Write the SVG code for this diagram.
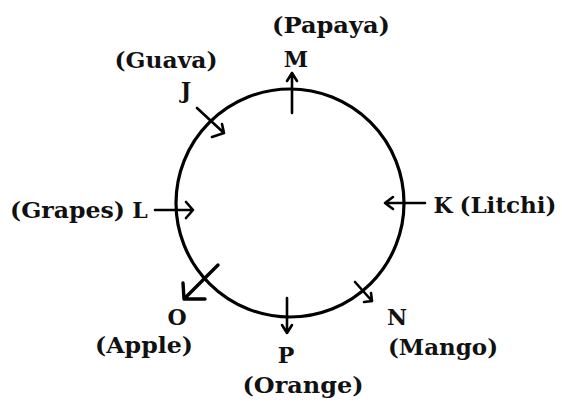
<svg xmlns="http://www.w3.org/2000/svg" width="562" height="410" viewBox="0 0 562 410">
<style>
text{font-family:"DejaVu Serif","Liberation Serif",serif;font-weight:bold;font-size:22px;fill:#111;text-anchor:middle}
.c{fill:none;stroke:#000;stroke-width:3.2}
.a{fill:none;stroke:#000;stroke-width:2.6;stroke-linecap:round;stroke-linejoin:round}
</style>
<rect width="562" height="410" fill="#fff"/>
<g id="circle"><circle class="c" cx="290" cy="203" r="114"/></g>
<g id="connectors">
<path class="a" d="M292 113V73M287 81L292 73L297 81"/>
<path class="a" d="M197 108L224 133M222 124L224 133L212 137"/>
<path class="a" d="M155 210H193M186 202L193 210L186 218"/>
<path class="a" d="M425 203H385M393 197L385 203L393 209"/>
<path class="a" d="M355 282L372 301M371 293L372 301L364 302"/>
<path class="a" d="M287 298V333M282 325L287 333L292 325"/>
<path class="a" style="stroke-width:3.4" d="M218 265L184 299M183 283L184 299L205 299"/>
</g>
<g id="node-M"><text x="331" y="33" textLength="118" lengthAdjust="spacingAndGlyphs">(Papaya)</text><text x="296" y="67">M</text></g>
<g id="node-J"><text x="166" y="68" textLength="103" lengthAdjust="spacingAndGlyphs">(Guava)</text><text x="186" y="98">J</text></g>
<g id="node-L"><text x="67.5" y="218" textLength="115" lengthAdjust="spacingAndGlyphs">(Grapes)</text><text x="140" y="218">L</text></g>
<g id="node-K"><text x="443" y="213">K</text><text x="508" y="213" textLength="97" lengthAdjust="spacingAndGlyphs">(Litchi)</text></g>
<g id="node-O"><text x="177" y="325">O</text><text x="144" y="353" textLength="98" lengthAdjust="spacingAndGlyphs">(Apple)</text></g>
<g id="node-P"><text x="286" y="363">P</text><text x="303" y="393" textLength="121" lengthAdjust="spacingAndGlyphs">(Orange)</text></g>
<g id="node-N"><text x="397" y="325">N</text><text x="443" y="355" textLength="110" lengthAdjust="spacingAndGlyphs">(Mango)</text></g>
</svg>
